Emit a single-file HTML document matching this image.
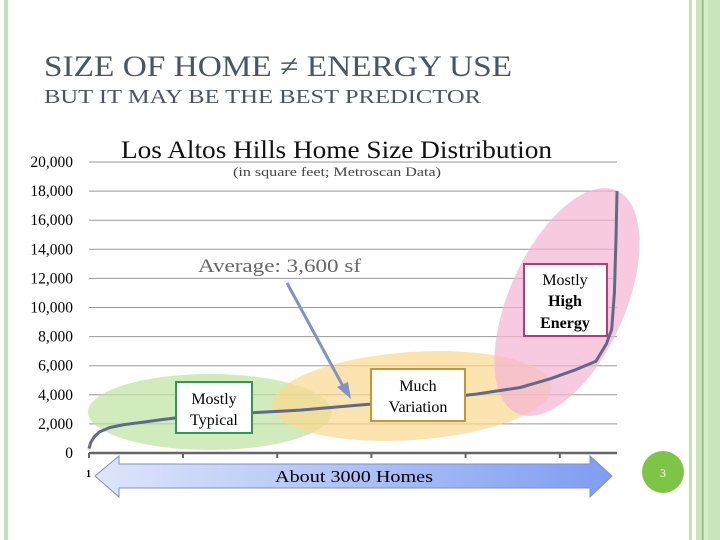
<!DOCTYPE html>
<html><head><meta charset="utf-8"><style>
body{margin:0;background:#fff;}
svg{display:block;font-family:"Liberation Serif",serif;}
</style></head><body>
<svg width="720" height="540" viewBox="0 0 720 540">
<defs>
<linearGradient id="ag" x1="0" x2="1" y1="0" y2="0">
<stop offset="0" stop-color="#dfe6fb"/><stop offset="1" stop-color="#7f9df0"/></linearGradient>
</defs>
<rect x="4" y="0" width="4" height="540" fill="#c4e3b4"/>
<g>
<rect x="689" y="0" width="3" height="540" fill="#c4e3b4"/>
<rect x="696" y="0" width="24" height="540" fill="#c9e6b9"/>
<rect x="702" y="0" width="1.5" height="540" fill="#8cc36a"/>
<rect x="704" y="0" width="4" height="540" fill="#d6edc9"/>
</g>
<text x="44" y="76" font-size="30" fill="#4a5562" textLength="468" lengthAdjust="spacingAndGlyphs">SIZE OF HOME ≠ ENERGY USE</text>
<text x="44" y="103" font-size="19.5" fill="#4a5562" textLength="437" lengthAdjust="spacingAndGlyphs">BUT IT MAY BE THE BEST PREDICTOR</text>
<text x="121" y="158" font-size="25" fill="#111" textLength="431" lengthAdjust="spacingAndGlyphs">Los Altos Hills Home Size Distribution</text>
<text x="233" y="176" font-size="13" fill="#444" textLength="208" lengthAdjust="spacingAndGlyphs">(in square feet; Metroscan Data)</text>
<g id="grid"></g>
<g id="ylabels"></g>
<g>
<ellipse cx="210" cy="412" rx="122" ry="38" fill="#bfe3a0" opacity="0.7"/>
<ellipse cx="412" cy="396" rx="140" ry="44" transform="rotate(-4 412 396)" fill="#fbd98f" opacity="0.7"/>
<ellipse cx="567" cy="302" rx="122" ry="58" transform="rotate(-66 567 302)" fill="#f5b4d3" opacity="0.7"/>
</g>
<line x1="89" y1="453" x2="617" y2="453" stroke="#666" stroke-width="2.5"/>
<g id="xticks"></g>
<path id="curve" fill="none" stroke="#5f6a88" stroke-width="3" stroke-linejoin="round"/>
<text x="198" y="272" font-size="18.5" fill="#666" textLength="163" lengthAdjust="spacingAndGlyphs">Average:  3,600 sf</text>
<g>
<line x1="287" y1="283" x2="344" y2="388" stroke="#8093c4" stroke-width="3"/>
<polygon points="351,399 337,387 348,382" fill="#8093c4"/>
</g>
<g>
<rect x="176" y="382" width="76" height="51" fill="#fff" stroke="#2e9a4e" stroke-width="2"/>
<text x="214" y="404" font-size="16" text-anchor="middle">Mostly</text>
<text x="214" y="425" font-size="16" text-anchor="middle">Typical</text>
</g>
<g>
<rect x="371" y="369" width="94" height="52" fill="#fff" stroke="#c09a2e" stroke-width="2"/>
<text x="418" y="391" font-size="16" text-anchor="middle">Much</text>
<text x="418" y="412" font-size="16" text-anchor="middle">Variation</text>
</g>
<g>
<rect x="524" y="264" width="83" height="72" fill="#fff" stroke="#b83a7c" stroke-width="2"/>
<text x="565" y="285" font-size="16" text-anchor="middle">Mostly</text>
<text x="565" y="306" font-size="16" font-weight="bold" text-anchor="middle">High</text>
<text x="565" y="328" font-size="16" font-weight="bold" text-anchor="middle">Energy</text>
</g>
<text x="86" y="477" font-size="10" font-weight="bold">1</text>
<g>
<polygon points="95,476 119,456 119,464 590,464 590,456 612,476 590,497 590,488 119,488 119,497" fill="url(#ag)" stroke="#7d90c8" stroke-width="1"/>
<text x="354" y="482" font-size="17" text-anchor="middle" textLength="158" lengthAdjust="spacingAndGlyphs">About 3000 Homes</text>
</g>
<g>
<circle cx="663" cy="472" r="21" fill="#7fc545"/>
<text x="663" y="477" font-size="12" fill="#fff" text-anchor="middle">3</text>
</g>
</svg>
<script>
const yTicks=[0,2000,4000,6000,8000,10000,12000,14000,16000,18000,20000];
const yTickLabels=["0","2,000","4,000","6,000","8,000","10,000","12,000","14,000","16,000","18,000","20,000"];
const xTicks=[1,535,1070,1605,2140,2675];
const homeIndex=[1,10,30,60,120,200,300,420,520,700,900,1200,1540,1900,2200,2450,2620,2760,2880,2940,2970,2985,2995,3000];
const homeSize=[300,700,1100,1450,1750,1950,2100,2300,2450,2600,2750,2950,3300,3650,4050,4500,5100,5700,6300,7500,8500,11000,15000,18000];
const NS="http://www.w3.org/2000/svg";
const X0=89,X1=617,Y0=453,Y1=162;
function xs(i){return X0+(i-1)/(3000-1)*(X1-X0);}
function ys(v){return Y0-v/20000*(Y0-Y1);}
const grid=document.getElementById('grid'),yl=document.getElementById('ylabels'),xt=document.getElementById('xticks');
yTicks.forEach((t,k)=>{
 if(t>0){const l=document.createElementNS(NS,'line');
 l.setAttribute('x1',X0);l.setAttribute('x2',X1);l.setAttribute('y1',ys(t));l.setAttribute('y2',ys(t));
 l.setAttribute('stroke','#999');l.setAttribute('stroke-width','1');
 
 
 grid.appendChild(l);}
 const tx=document.createElementNS(NS,'text');
 tx.setAttribute('x',73);tx.setAttribute('y',ys(t)+5);tx.setAttribute('text-anchor','end');tx.setAttribute('font-size','15.5');
 tx.textContent=yTickLabels[k];
 
 
 yl.appendChild(tx);
});
xTicks.forEach(t=>{
 const l=document.createElementNS(NS,'line');
 l.setAttribute('x1',xs(t));l.setAttribute('x2',xs(t));l.setAttribute('y1',453);l.setAttribute('y2',458);
 l.setAttribute('stroke','#666');l.setAttribute('stroke-width','2');
 
 
 xt.appendChild(l);
});
document.getElementById('curve').setAttribute('d',homeIndex.map((h,k)=>(k?'L':'M')+xs(h).toFixed(1)+','+ys(homeSize[k]).toFixed(1)).join(' '));
</script>
</body></html>
